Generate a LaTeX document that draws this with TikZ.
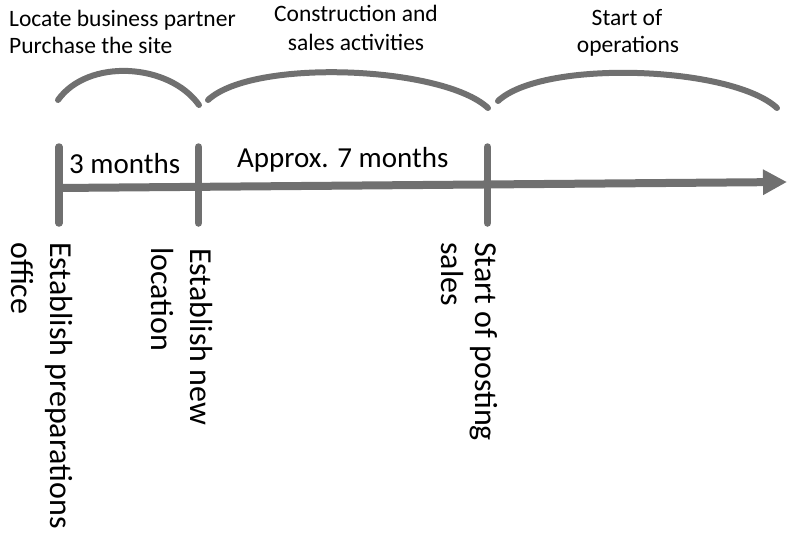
\documentclass[tikz,border=0pt]{standalone}
\usepackage{fontspec}
\setmainfont{Carlito}
\usetikzlibrary{arrows.meta}
\definecolor{axisgray}{RGB}{112,112,112}
\begin{document}
\begin{tikzpicture}[x=1pt,y=-1pt,
  lbl/.style={inner sep=0pt, anchor=base, font=\fontsize{23.5}{28}\selectfont},
  vlbl/.style={inner sep=0pt, anchor=base west, rotate=-90, font=\fontsize{32}{38}\selectfont},
  per/.style={inner sep=0pt, anchor=base west, font=\fontsize{29}{35}\selectfont},
  tickline/.style={line width=7.5pt, draw=axisgray, line cap=round},
  bracearc/.style={line width=6pt, draw=axisgray, line cap=round},
  axisline/.style={line width=8pt, draw=axisgray, -{Triangle[length=24pt,width=24pt]}}]
\useasboundingbox (0,0) rectangle (788,533);

% time axis
\coordinate (s) at (58,188);
\coordinate (e) at (787,182);
\draw[axisline] (s) -- (e);

% ticks
\coordinate (t1a) at (59,147); \coordinate (t1b) at (59,223);
\coordinate (t2a) at (198.5,147); \coordinate (t2b) at (198.5,223);
\coordinate (t3a) at (487.5,147); \coordinate (t3b) at (487.5,223);
\draw[tickline] (t1a) -- (t1b);
\draw[tickline] (t2a) -- (t2b);
\draw[tickline] (t3a) -- (t3b);

% arcs
\coordinate (a1s) at (58,100); \coordinate (a1e) at (199,105);
\coordinate (a2s) at (208,100); \coordinate (a2e) at (488,108);
\coordinate (a3s) at (498,101); \coordinate (a3e) at (777,108);
\draw[bracearc] (a1s) .. controls (88,58) and (169,63) .. (a1e);
\draw[bracearc] (a2s) .. controls (253,58) and (443,66) .. (a2e);
\draw[bracearc] (a3s) .. controls (543,59) and (732,66) .. (a3e);

% phase labels
\node[lbl, anchor=base west] (l1) at (9,26) {Locate business partner};
\node[lbl, anchor=base west] (l2) at (9,53) {Purchase the site};
\node[lbl] (c1) at (356,21) {Construction and};
\node[lbl] (c2) at (356,50) {sales activities};
\node[lbl] (o1) at (627,25) {Start of};
\node[lbl] (o2) at (628,52) {operations};

% period labels
\node[per] (m3) at (69,173) {3 months};
\node[per] (m7) at (237,167) {Approx. 7 months};

% milestone labels
\node[vlbl] (e1a) at (50,242) {Establish preparations};
\node[vlbl] (e1b) at (12,242) {office};
\node[vlbl] (e2a) at (190,248) {Establish new};
\node[vlbl] (e2b) at (151,247) {location};
\node[vlbl] (e3a) at (475,242) {Start of posting};
\node[vlbl] (e3b) at (441,242) {sales};
\end{tikzpicture}
\end{document}
